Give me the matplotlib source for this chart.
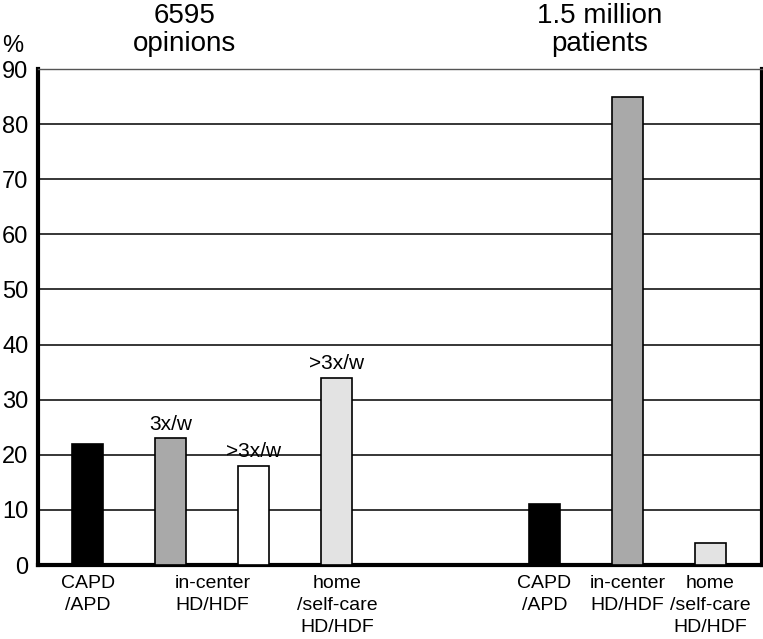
import matplotlib.pyplot as plt
from matplotlib.transforms import blended_transform_factory

plt.rcParams['font.family'] = ['Liberation Sans', 'DejaVu Sans']

# data
bar_pos = [0, 1, 2, 3, 5.5, 6.5, 7.5]
values = [22, 23, 18, 34, 11, 85, 4]
colors = ['black', '#a9a9a9', 'white', '#e3e3e3', 'black', '#a9a9a9', '#e3e3e3']
notes = ['', '3x/w', '>3x/w', '>3x/w', '', '', '']
label_pos = [0, 1.5, 3, 5.5, 6.5, 7.5]
labels = ['CAPD\n/APD', 'in-center\nHD/HDF', 'home\n/self-care\nHD/HDF',
          'CAPD\n/APD', 'in-center\nHD/HDF', 'home\n/self-care\nHD/HDF']
titles = ['6595\nopinions', '1.5 million\npatients']
title_pos = [1.17, 6.17]

fig = plt.figure(figsize=(7.63, 6.39), dpi=100)
ax = fig.add_axes([0.0498, 0.1158, 0.9487, 0.7762])

ax.bar(bar_pos, values, width=0.375, color=colors, edgecolor='black', linewidth=1.2, zorder=3)
for x, v, n in zip(bar_pos, values, notes):
    if n:
        ax.text(x, v + 0.8, n, ha='center', va='bottom', fontsize=15)

ax.set_xlim(-0.6, 8.12)
ax.set_ylim(0, 90)
ax.set_yticks(range(0, 91, 10))
ax.yaxis.grid(True, color='black', linewidth=1.1)
ax.set_axisbelow(True)
ax.tick_params(axis='y', length=0, labelsize=17, pad=7)

ax.set_xticks(label_pos)
ax.set_xticklabels(labels, fontsize=14, linespacing=1.38)
ax.tick_params(axis='x', length=0, pad=7)

for s in ['left', 'bottom', 'right']:
    ax.spines[s].set_linewidth(3)
ax.spines['top'].set_linewidth(1)
ax.spines['top'].set_color('#555555')

tr = blended_transform_factory(ax.transData, fig.transFigure)
for t, x in zip(titles, title_pos):
    ax.text(x, 1 - 51 / 639, t, transform=tr, ha='center', va='baseline', fontsize=20, linespacing=1.1)
fig.text(13 / 763, 1 - 52 / 639, '%', ha='center', va='baseline', fontsize=17)

plt.savefig('out.png', dpi=100)
